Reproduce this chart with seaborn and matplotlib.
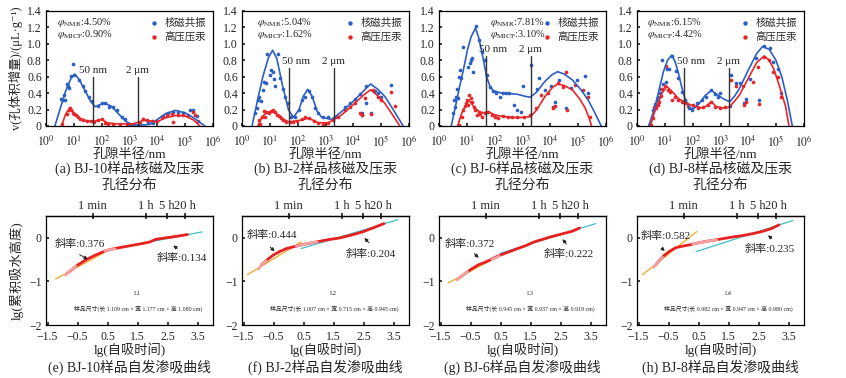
import numpy as np
import pandas as pd
import matplotlib
matplotlib.use("Agg")
import matplotlib.pyplot as plt
import seaborn as sns

# ---- top row: pore size distributions (x = lg r/nm, y = increment) ----
a_nmr_x = [0.54, 0.6, 0.65, 0.69, 0.74, 0.79, 0.84, 0.91, 0.98, 1.01, 1.2, 1.34, 1.41, 1.56, 1.66, 1.88, 2.0, 2.12,
           2.28, 2.42, 2.56, 2.72, 2.84, 3.02, 3.32, 3.5, 3.68, 3.86, 4.22, 4.4, 4.57, 4.75, 4.91, 5.17, 5.27, 5.41]
a_nmr_y = [0.33, 0.32, 0.38, 0.32, 0.51, 0.49, 0.46, 0.61, 0.75, 0.62, 0.56, 0.49, 0.42, 0.35, 0.30, 0.24, 0.275, 0.275,
           0.235, 0.23, 0.19, 0.11, 0.09, 0.01, 0.01, 0.085, 0.05, 0.04, 0.12, 0.155, 0.175, 0.175, 0.16, 0.2, 0.19, 0.12]
a_micp_x = [0.59, 0.74, 0.81, 0.86, 0.91, 0.96, 1.0, 1.08, 1.15, 1.22, 1.34, 1.46, 1.6, 1.72, 1.88, 2.0, 2.12, 2.24,
            2.42, 2.66, 2.9, 3.14, 3.38, 3.5, 3.62, 3.8, 3.98, 4.16, 4.34, 4.51, 4.57, 4.75, 4.93, 5.11, 5.29, 5.35, 5.47]
a_micp_y = [0.025, 0.15, 0.195, 0.215, 0.195, 0.16, 0.145, 0.135, 0.11, 0.09, 0.07, 0.065, 0.065, 0.05, 0.07, 0.08,
            0.04, 0.025, 0.025, 0.03, 0.03, 0.025, 0.04, 0.08, 0.07, 0.065, 0.065, 0.105, 0.135, 0.14, 0.05, 0.135,
            0.135, 0.135, 0.175, 0.135, 0.065]
a_nmr_fit_x = [0.32, 0.5, 0.7, 0.9, 1.04, 1.2, 1.4, 1.6, 1.76, 1.95, 2.12, 2.35, 2.6, 2.85, 3.1, 3.4, 3.74, 4.0, 4.3,
               4.65, 5.0, 5.3, 5.5, 5.71]
a_nmr_fit_y = [0, 0.2, 0.42, 0.58, 0.63, 0.56, 0.43, 0.3, 0.235, 0.26, 0.275, 0.24, 0.15, 0.06, 0.015, 0.01, 0.02,
               0.08, 0.15, 0.19, 0.16, 0.1, 0.05, 0]
a_micp_fit_x = [0.56, 0.7, 0.86, 1.0, 1.22, 1.5, 1.76, 2.0, 2.2, 2.5, 3.14, 3.35, 3.5, 3.75, 3.98, 4.3, 4.69, 5.0,
                5.29, 5.53]
a_micp_fit_y = [0, 0.14, 0.225, 0.16, 0.09, 0.06, 0.06, 0.08, 0.04, 0.025, 0.025, 0.05, 0.07, 0.06, 0.05, 0.1, 0.13,
                0.12, 0.075, 0]

b_nmr_x = [0.48, 0.53, 0.57, 0.62, 0.67, 0.74, 0.8, 0.86, 0.91, 1.0, 1.05, 1.1, 1.15, 1.19, 1.31, 1.36, 1.46, 1.55,
           1.65, 1.77, 1.89, 2.03, 2.15, 2.27, 2.39, 2.51, 2.63, 2.74, 2.92, 3.1, 3.34, 3.7, 3.88, 4.06, 4.24, 4.47,
           4.3, 4.32, 4.65, 4.77, 4.89, 5.01, 5.35, 4.44]
b_nmr_y = [0.155, 0.215, 0.315, 0.355, 0.305, 0.44, 0.54, 0.52, 0.875, 0.62, 0.68, 0.66, 0.57, 0.485, 0.875, 0.58,
           0.445, 0.355, 0.275, 0.113, 0.105, 0.195, 0.315, 0.355, 0.43, 0.355, 0.215, 0.155, 0.113, 0.105, 0.113,
           0.235, 0.275, 0.325, 0.39, 0.485, 0.16, 0.135, 0.155, 0.43, 0.405, 0.355, 0.5, 0.28]
b_micp_x = [0.6, 0.66, 0.72, 0.78, 0.84, 0.91, 0.98, 1.05, 1.12, 1.19, 1.26, 1.34, 1.41, 1.49, 1.58, 1.73, 1.85, 1.97,
            2.15, 2.27, 2.39, 2.57, 2.74, 2.92, 3.1, 3.28, 3.46, 3.7, 3.88, 4.06, 4.24, 4.3, 4.42, 4.65, 4.71, 4.89,
            5.01, 5.35, 5.49]
b_micp_y = [0.075, 0.025, 0.105, 0.18, 0.113, 0.175, 0.155, 0.185, 0.195, 0.175, 0.135, 0.12, 0.095, 0.075, 0.05,
            0.05, 0.05, 0.065, 0.08, 0.105, 0.095, 0.065, 0.04, 0.03, 0.04, 0.075, 0.113, 0.195, 0.235, 0.275, 0.155,
            0.135, 0.335, 0.145, 0.435, 0.355, 0.315, 0.415, 0.245]
b_nmr_fit_x = [0.36, 0.55, 0.75, 0.95, 1.1, 1.25, 1.45, 1.67, 1.85, 2.05, 2.2, 2.36, 2.52, 2.7, 2.86, 3.22, 3.58, 4.0,
               4.35, 4.62, 4.9, 5.13, 5.45, 5.79]
b_nmr_fit_y = [0, 0.3, 0.6, 0.83, 0.92, 0.82, 0.5, 0.195, 0.105, 0.2, 0.36, 0.445, 0.36, 0.18, 0.105, 0.08, 0.175,
               0.3, 0.42, 0.51, 0.44, 0.36, 0.19, 0]
b_micp_fit_x = [0.57, 0.7, 0.84, 1.07, 1.31, 1.5, 1.67, 2.03, 2.39, 2.74, 3.1, 3.58, 4.0, 4.35, 4.62, 4.9, 5.13, 5.4,
                5.67]
b_micp_fit_y = [0, 0.1, 0.15, 0.175, 0.135, 0.08, 0.05, 0.065, 0.095, 0.04, 0.04, 0.135, 0.26, 0.37, 0.44, 0.36,
                0.275, 0.14, 0]

c_nmr_x = [0.5, 0.53, 0.58, 0.61, 0.65, 0.68, 0.73, 0.76, 0.79, 0.88, 1.05, 1.1, 1.15, 1.19, 1.23, 1.33, 1.43, 1.54,
           1.66, 1.71, 1.83, 1.95, 2.06, 2.18, 2.29, 2.41, 2.53, 2.7, 2.82, 2.93, 3.02, 3.3, 3.51, 3.6, 3.8, 4.03,
           4.09, 4.15, 4.32, 4.55, 4.73, 4.96, 5.25, 5.36]
c_nmr_y = [0.155, 0.315, 0.235, 0.355, 0.45, 0.335, 0.6, 0.68, 0.58, 0.96, 0.72, 0.77, 0.8, 0.82, 0.66, 1.21, 1.04,
           0.9, 0.8, 0.62, 0.47, 0.43, 0.4, 0.355, 0.405, 0.405, 0.4, 0.255, 0.195, 0.175, 0.485, 0.74, 0.445, 0.58,
           0.437, 0.485, 0.235, 0.29, 0.56, 0.215, 0.46, 0.56, 0.61, 0.4]
c_micp_x = [0.73, 0.82, 0.87, 0.92, 0.96, 1.0, 1.04, 1.09, 1.14, 1.19, 1.25, 1.31, 1.37, 1.43, 1.48, 1.56, 1.66, 1.77,
            1.89, 2.0, 2.12, 2.29, 2.47, 2.64, 2.82, 3.05, 3.28, 3.49, 3.68, 3.91, 4.09, 4.18, 4.26, 4.44, 4.61, 4.55,
            4.9, 5.19, 5.36, 5.42]
c_micp_y = [0.012, 0.113, 0.195, 0.245, 0.275, 0.315, 0.255, 0.375, 0.335, 0.295, 0.235, 0.195, 0.135, 0.175, 0.145,
            0.113, 0.155, 0.175, 0.135, 0.113, 0.093, 0.12, 0.105, 0.113, 0.105, 0.113, 0.135, 0.215, 0.375, 0.4,
            0.215, 0.245, 0.52, 0.47, 0.195, 0.66, 0.5, 0.44, 0.355, 0.113]
c_nmr_fit_x = [0.44, 0.6, 0.73, 0.9, 1.02, 1.15, 1.31, 1.42, 1.54, 1.71, 1.83, 1.95, 2.24, 2.82, 3.1, 3.28, 3.5, 3.8,
               4.05, 4.26, 4.5, 4.79, 5.1, 5.36, 5.6, 5.83]
c_nmr_fit_y = [0, 0.25, 0.46, 0.72, 0.92, 1.08, 1.19, 1.08, 0.9, 0.6, 0.48, 0.43, 0.4, 0.385, 0.36, 0.35, 0.41, 0.54,
               0.62, 0.66, 0.63, 0.56, 0.44, 0.315, 0.16, 0]
c_micp_fit_x = [0.67, 0.8, 0.9, 1.08, 1.25, 1.43, 1.6, 1.77, 2.0, 2.35, 2.82, 3.28, 3.51, 3.8, 4.05, 4.26, 4.5, 4.79,
                5.05, 5.25, 5.4, 5.48]
c_micp_fit_y = [0, 0.14, 0.215, 0.315, 0.235, 0.175, 0.16, 0.175, 0.135, 0.113, 0.1, 0.113, 0.195, 0.355, 0.46,
                0.51, 0.49, 0.44, 0.33, 0.22, 0.09, 0]

d_nmr_x = [0.48, 0.53, 0.59, 0.65, 0.71, 0.77, 0.81, 0.87, 0.9, 0.95, 1.05, 1.09, 1.16, 1.25, 1.39, 1.49, 1.6, 1.72,
           1.88, 1.96, 2.14, 2.32, 2.49, 2.67, 2.79, 2.91, 2.97, 3.33, 3.38, 3.56, 3.71, 3.86, 3.92, 4.06, 4.28,
           4.39, 4.57, 4.77, 4.89, 5.05, 5.17]
d_nmr_y = [0.03, 0.113, 0.195, 0.27, 0.315, 0.355, 0.4, 0.455, 0.8, 0.505, 0.54, 0.69, 0.69, 0.85, 0.67, 0.58, 0.415,
           0.315, 0.215, 0.195, 0.275, 0.315, 0.355, 0.437, 0.385, 0.355, 0.405, 0.245, 0.62, 0.52, 0.525, 0.275,
           0.325, 0.565, 0.82, 0.315, 0.97, 0.945, 0.78, 0.69, 0.4]
d_micp_x = [0.5, 0.56, 0.62, 0.67, 0.74, 0.79, 0.86, 0.91, 1.0, 1.05, 1.1, 1.19, 1.27, 1.37, 1.49, 1.6, 1.72, 1.84,
            2.02, 2.2, 2.38, 2.55, 2.67, 2.79, 2.97, 3.15, 3.38, 3.56, 3.8, 3.86, 3.92, 4.16, 4.33, 4.39, 4.57, 4.75,
            4.87, 5.05, 5.17]
d_micp_y = [0.012, 0.093, 0.235, 0.215, 0.255, 0.295, 0.365, 0.455, 0.485, 0.73, 0.437, 0.415, 0.315, 0.355, 0.315,
            0.295, 0.275, 0.245, 0.255, 0.215, 0.235, 0.255, 0.295, 0.235, 0.215, 0.225, 0.56, 0.48, 0.48, 0.255,
            0.295, 0.54, 0.72, 0.27, 0.84, 0.8, 0.65, 0.6, 0.35]
d_nmr_fit_x = [0.42, 0.55, 0.65, 0.8, 0.95, 1.1, 1.25, 1.37, 1.49, 1.6, 1.72, 1.9, 2.05, 2.2, 2.45, 2.67, 2.8, 2.91,
               3.1, 3.33, 3.5, 3.68, 4.0, 4.3, 4.51, 4.75, 4.99, 5.2, 5.4, 5.58]
d_nmr_fit_y = [0, 0.13, 0.235, 0.45, 0.66, 0.8, 0.86, 0.78, 0.64, 0.48, 0.335, 0.215, 0.215, 0.26, 0.37, 0.43, 0.4,
               0.375, 0.33, 0.295, 0.36, 0.455, 0.68, 0.88, 0.965, 0.93, 0.8, 0.6, 0.315, 0]
d_micp_fit_x = [0.48, 0.6, 0.71, 0.9, 1.07, 1.2, 1.31, 1.5, 1.69, 1.9, 2.14, 2.38, 2.55, 2.67, 2.85, 3.15, 3.33, 3.5,
                3.68, 4.0, 4.3, 4.57, 4.75, 4.93, 5.15, 5.34, 5.46]
d_micp_fit_y = [0, 0.14, 0.235, 0.4, 0.48, 0.44, 0.4, 0.33, 0.295, 0.26, 0.235, 0.215, 0.26, 0.295, 0.235, 0.215,
                0.235, 0.3, 0.375, 0.58, 0.77, 0.85, 0.8, 0.68, 0.45, 0.235, 0]

phi_nmr = ["4.50%", "5.04%", "7.81%", "6.15%"]
phi_micp = ["0.90%", "1.62%", "3.10%", "4.42%"]
top_captions = ["(a) BJ-10样品核磁及压汞", "(b) BJ-2样品核磁及压汞", "(c) BJ-6样品核磁及压汞", "(d) BJ-8样品核磁及压汞"]
marker_line_top = [0.59, 0.7, 0.85, 0.7]

# ---- bottom row: spontaneous imbibition, lg(time/min) vs lg(height) ----
e_curve_x = [-0.85, -0.7, -0.5, -0.2, 0.1, 0.4, 0.6, 0.9, 1.3, 1.7, 1.9, 2.1, 2.5, 2.9, 3.15]
e_curve_y = [-0.82, -0.74, -0.63, -0.5, -0.4, -0.31, -0.27, -0.23, -0.18, -0.13, -0.1, -0.04, 0.0, 0.04, 0.07]
e_pink = [([-0.9, -0.75, -0.55], [-0.86, -0.76, -0.66]), ([0.4, 0.55, 0.75], [-0.31, -0.28, -0.26])]
e_early = ([-1.23, 0.52], [-0.95, -0.29])
e_late = ([0.46, 3.64], [-0.29, 0.13])

f_curve_x = [-0.9, -0.7, -0.51, -0.3, -0.07, 0.17, 0.4, 0.7, 0.92, 1.3, 1.69, 2.1, 2.46, 2.8, 3.17]
f_curve_y = [-0.62, -0.5, -0.4, -0.32, -0.25, -0.21, -0.17, -0.13, -0.1, -0.05, -0.01, 0.06, 0.13, 0.22, 0.32]
f_pink = [([-1.0, -0.9, -0.75], [-0.72, -0.62, -0.53]), ([0.25, 0.5, 0.75, 0.95], [-0.2, -0.16, -0.12, -0.1])]
f_early = ([-1.37, 0.42], [-0.85, -0.1])
f_late = ([0.42, 3.64], [-0.25, 0.41])

g_curve_x = [-0.87, -0.66, -0.45, -0.23, 0.0, 0.15, 0.35, 0.53, 0.8, 1.07, 1.35, 1.61, 1.9, 2.15, 2.58, 2.9, 3.12]
g_curve_y = [-0.92, -0.81, -0.71, -0.62, -0.56, -0.51, -0.44, -0.39, -0.32, -0.25, -0.18, -0.1, -0.04, 0.015, 0.09,
             0.15, 0.22]
g_pink = [([-0.95, -0.8, -0.6], [-0.97, -0.88, -0.78]), ([0.2, 0.35, 0.45], [-0.5, -0.46, -0.42])]
g_early = ([-1.25, 0.48], [-1.04, -0.41])
g_late = ([0.48, 3.66], [-0.36, 0.32])

h_curve_x = [-0.92, -0.8, -0.65, -0.48, -0.26, 0.02, 0.24, 0.5, 0.8, 1.01, 1.34, 1.7, 2.0, 2.3, 2.56, 2.9, 3.17]
h_curve_y = [-0.62, -0.52, -0.41, -0.32, -0.23, -0.19, -0.16, -0.12, -0.08, -0.06, -0.02, 0.02, 0.05, 0.09, 0.13,
             0.2, 0.29]
h_pink = [([-1.0, -0.85, -0.7], [-0.68, -0.57, -0.45]), ([0.3, 0.6, 0.9, 1.1], [-0.15, -0.11, -0.07, -0.05])]
h_early = ([-1.37, 0.44], [-0.85, 0.14])
h_late = ([0.42, 3.63], [-0.32, 0.39])

slope_early = ["0.376", "0.444", "0.372", "0.582"]
slope_late = ["0.134", "0.204", "0.222", "0.235"]
# (text x, text y, arrow tail x, tail y, head x, head y)
early_note = [(-1.26, -0.14, -0.51, -0.36, -0.08, -0.53), (-1.39, 0.07, -0.68, -0.17, -0.4, -0.36),
              (-1.36, -0.14, -0.44, -0.32, -0.17, -0.51), (-1.44, 0.03, -0.78, -0.21, -0.56, -0.35)]
late_note = [(2.13, -0.46, 2.88, -0.29, 2.61, -0.14), (1.91, -0.38, 2.73, -0.17, 2.46, 0.04),
             (1.93, -0.38, 2.74, -0.2, 2.5, 0.015), (2.03, -0.26, 3.0, -0.06, 2.73, 0.09)]
sample_ids = ["L1", "L2", "L3", "L4"]
sample_sizes = ["样品尺寸(长 1.109 cm × 宽 1.177 cm × 高 1.080 cm)",
                "样品尺寸(长 1.007 cm × 宽 0.715 cm × 高 0.945 cm)",
                "样品尺寸(长 0.945 cm × 宽 0.937 cm × 高 0.919 cm)",
                "样品尺寸(长 0.982 cm × 宽 0.947 cm × 高 0.980 cm)"]
bottom_captions = ["(e) BJ-10样品自发渗吸曲线", "(f) BJ-2样品自发渗吸曲线", "(g) BJ-6样品自发渗吸曲线",
                   "(h) BJ-8样品自发渗吸曲线"]
top_time_minutes = [1, 60, 300, 1200]
top_time_labels = ["1 min", "1 h", "5 h", "20 h"]

sns.set_theme(style="ticks")
plt.rcParams["font.family"] = ["Liberation Serif", "Noto Sans CJK SC", "DejaVu Serif"]
plt.rcParams["mathtext.fontset"] = "stix"
plt.rcParams["axes.linewidth"] = 0.9
plt.rcParams["axes.edgecolor"] = "black"

BLUE = "#2c5fc4"
RED = "#e8262a"
W, H = 846, 378
fig = plt.figure(figsize=(W / 100, H / 100), dpi=100)


def px_axes(left, top, width, height):
    return fig.add_axes([left / W, 1 - (top + height) / H, width / W, height / H])


lefts = [46, 242, 439, 637]
AW = 167

# --- top row ---
top_sets = [
    (a_nmr_x, a_nmr_y, a_micp_x, a_micp_y, a_nmr_fit_x, a_nmr_fit_y, a_micp_fit_x, a_micp_fit_y),
    (b_nmr_x, b_nmr_y, b_micp_x, b_micp_y, b_nmr_fit_x, b_nmr_fit_y, b_micp_fit_x, b_micp_fit_y),
    (c_nmr_x, c_nmr_y, c_micp_x, c_micp_y, c_nmr_fit_x, c_nmr_fit_y, c_micp_fit_x, c_micp_fit_y),
    (d_nmr_x, d_nmr_y, d_micp_x, d_micp_y, d_nmr_fit_x, d_nmr_fit_y, d_micp_fit_x, d_micp_fit_y),
]
phi_x = [0.066, 0.088, 0.305, 0.058]
for i, (nx, ny, mx, my, nfx, nfy, mfx, mfy) in enumerate(top_sets):
    ax = px_axes(lefts[i], 10.7, AW, 115.3)
    sns.lineplot(x=nfx, y=nfy, ax=ax, color=BLUE, lw=1.2, sort=False)
    sns.lineplot(x=mfx, y=mfy, ax=ax, color=RED, lw=1.2, sort=False)
    sns.scatterplot(x=nx, y=ny, ax=ax, color=BLUE, s=7, linewidth=0, label="核磁共振")
    sns.scatterplot(x=mx, y=my, ax=ax, color=RED, s=7, linewidth=0, label="高压压汞")
    top = marker_line_top[i]
    for xv in [np.log10(50), np.log10(2000)]:
        ax.plot([xv, xv], [0, top], color="#333333", lw=1.0)
    ax.text(np.log10(50) + (0 if i == 0 else 0.25), top + 0.03, "50 nm", ha="center", va="bottom", fontsize=8)
    ax.text(np.log10(2000), top + 0.03, "2 μm", ha="center", va="bottom", fontsize=8)
    ax.text(phi_x[i], 0.9, r"$\varphi_{\rm NMR}$:" + phi_nmr[i], transform=ax.transAxes, fontsize=7.5, va="center")
    ax.text(phi_x[i], 0.79, r"$\varphi_{\rm MICP}$:" + phi_micp[i], transform=ax.transAxes, fontsize=7.5,
            va="center")
    ax.legend(loc="upper right", frameon=False, fontsize=7.5, handletextpad=0.0, borderaxespad=0.3,
              labelspacing=0.35, markerscale=1.2)
    ax.set_xlim(0, 6)
    ax.set_ylim(0, 1.4)
    ax.set_xticks(range(7))
    ax.set_xticklabels([rf"$10^{{{k}}}$" for k in range(7)])
    ax.set_yticks(np.arange(0, 1.41, 0.2))
    ax.set_yticklabels(["0" if k == 0 else f"{v:.1f}" for k, v in enumerate(np.arange(0, 1.41, 0.2))])
    ax.tick_params(direction="in", length=2.5, labelsize=8.5)
    ax.tick_params(axis="x", pad=6)
    ax.tick_params(axis="y", pad=3)
    ax.set_xlabel("孔隙半径/nm", fontsize=9.5, labelpad=-1)
    if i == 0:
        ax.set_ylabel("v(孔体积增量)/(μL·g⁻¹)", fontsize=9, labelpad=3)
    cx = (lefts[i] + AW / 2) / W
    fig.text(cx, 1 - 168 / H, top_captions[i], ha="center", va="center", fontsize=10)
    fig.text(cx, 1 - 185 / H, "孔径分布", ha="center", va="center", fontsize=10)

# --- bottom row ---
bottom_sets = [
    (e_curve_x, e_curve_y, e_pink, e_early, e_late),
    (f_curve_x, f_curve_y, f_pink, f_early, f_late),
    (g_curve_x, g_curve_y, g_pink, g_early, g_late),
    (h_curve_x, h_curve_y, h_pink, h_early, h_late),
]
for i, (cx_, cy_, pinks, early, late) in enumerate(bottom_sets):
    ax = px_axes(lefts[i], 215.7, AW, 109.3)
    sns.lineplot(x=early[0], y=early[1], ax=ax, color="#f5a623", lw=0.9)
    sns.lineplot(x=late[0], y=late[1], ax=ax, color="#3fc0c8", lw=0.9)
    sns.lineplot(x=cx_, y=cy_, ax=ax, color="#e82020", lw=2.0)
    for px_, py_ in pinks:
        sns.lineplot(x=px_, y=py_, ax=ax, color="#f2a0a0", lw=2.0)
    tx, ty, ax0, ay0, hx, hy = early_note[i]
    ax.text(tx, ty, "斜率:" + slope_early[i], fontsize=8, va="center")
    ax.annotate("", xy=(hx, hy), xytext=(ax0, ay0),
                arrowprops=dict(arrowstyle="-|>", color="#222222", lw=0.7, mutation_scale=5))
    tx, ty, ax0, ay0, hx, hy = late_note[i]
    ax.text(tx, ty, "斜率:" + slope_late[i], fontsize=8, va="center")
    ax.annotate("", xy=(hx, hy), xytext=(ax0, ay0),
                arrowprops=dict(arrowstyle="-|>", color="#222222", lw=0.7, mutation_scale=5))
    ax.text(1.5, -1.27, sample_ids[i], ha="center", va="center", fontsize=4.5)
    ax.text(1.5, -1.62, sample_sizes[i], ha="center", va="center", fontsize=4.2)
    ax.set_xlim(-1.55, 4.0)
    ax.set_ylim(-2, 0.5)
    xt = [-1.5, -0.5, 0.5, 1.5, 2.5, 3.5]
    ax.set_xticks(xt)
    ax.set_xticklabels([f"{v:.1f}".replace("-", "−") for v in xt])
    ax.set_yticks([-2, -1, 0])
    ax.set_yticklabels(["−2", "−1", "0"])
    ax.tick_params(direction="in", length=2.5, labelsize=8.5)
    ax.tick_params(axis="x", pad=4)
    ax.tick_params(axis="y", pad=3)
    sec = ax.secondary_xaxis("top")
    sec.set_xticks(np.log10(top_time_minutes))
    sec.set_xticklabels(top_time_labels)
    sec.tick_params(direction="inout", length=4, labelsize=9, pad=1)
    ax.set_xlabel("lg(自吸时间)", fontsize=9.5, labelpad=0)
    if i == 0:
        ax.set_ylabel("lg(累积吸水高度)", fontsize=9.5, labelpad=4)
    fig.text((lefts[i] + AW / 2) / W, 1 - 367 / H, bottom_captions[i], ha="center", va="center", fontsize=10)

fig.savefig("out.png", dpi=100)
